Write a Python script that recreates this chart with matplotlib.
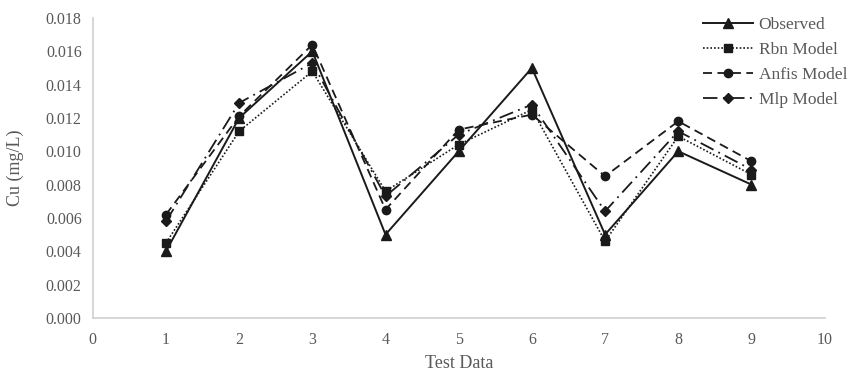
import matplotlib.pyplot as plt

plt.rcParams['font.family'] = ['Liberation Serif', 'DejaVu Serif']

test_data = [1, 2, 3, 4, 5, 6, 7, 8, 9]
observed = [0.0040, 0.0120, 0.0160, 0.0050, 0.0100, 0.0150, 0.0050, 0.0100, 0.0080]
rbn = [0.0045, 0.0112, 0.0148, 0.0076, 0.0104, 0.0125, 0.0046, 0.0109, 0.0086]
anfis = [0.0062, 0.0121, 0.0164, 0.0065, 0.0113, 0.0122, 0.0085, 0.0118, 0.0094]
mlp = [0.0058, 0.0129, 0.0153, 0.0073, 0.0110, 0.0128, 0.0064, 0.0112, 0.0089]

grey = '#595959'
ink = '#1a1a1a'

fig = plt.figure(figsize=(8.59, 3.74), dpi=100)
ax = fig.add_axes([0.108, 0.150, 0.852, 0.802])

ax.plot(test_data, observed, color=ink, lw=1.4, ls='-', marker='^', ms=7, label='Observed')
ax.plot(test_data, rbn, color=ink, lw=1.2, ls=(0, (1, 1.2)), marker='s', ms=6, label='Rbn Model')
ax.plot(test_data, anfis, color=ink, lw=1.3, ls=(0, (5, 3)), marker='o', ms=6, label='Anfis Model')
ax.plot(test_data, mlp, color=ink, lw=1.3, ls=(0, (8, 3, 1, 3)), marker='D', ms=5, label='Mlp Model')

ax.set_xlim(0, 10)
ax.set_ylim(0, 0.018)
ax.set_xticks(range(0, 11))
ax.set_yticks([i * 0.002 for i in range(10)])
ax.set_yticklabels(['%.3f' % (i * 0.002) for i in range(10)])

for s in ['top', 'right']:
    ax.spines[s].set_visible(False)
for s in ['left', 'bottom']:
    ax.spines[s].set_color('#d0d0d0')
    ax.spines[s].set_linewidth(1.2)
ax.tick_params(length=0, labelsize=11.5, colors=grey, pad=10)
ax.tick_params(axis='y', pad=8)

ax.set_xlabel('Test Data', fontsize=13, color=grey, labelpad=5)
ax.set_ylabel('Cu (mg/L)', fontsize=13, color=grey, labelpad=16)

leg = fig.legend(loc='upper left', bbox_to_anchor=(703 / 859, 1 - 17 / 374), frameon=False,
                 fontsize=12.5, handlelength=2.9, labelspacing=0.5, handletextpad=0.3,
                 borderpad=0, borderaxespad=0)
for t in leg.get_texts():
    t.set_color(grey)

fig.savefig('out.png', dpi=100)
